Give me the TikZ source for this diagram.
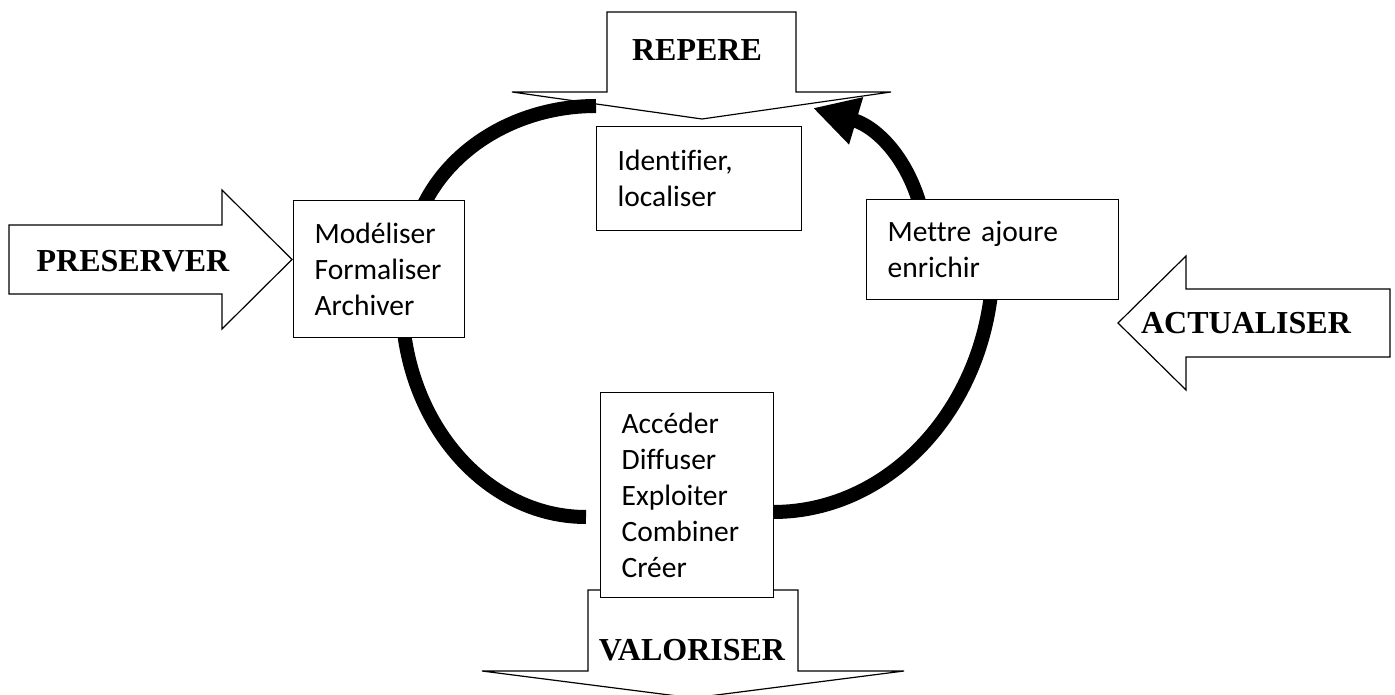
\documentclass[tikz,border=0pt]{standalone}
\usepackage{fontspec}
\setmainfont[Ligatures=NoCommon]{Carlito}
\newfontfamily\headfont{Liberation Serif}
\usetikzlibrary{arrows.meta}
\begin{document}
\begin{tikzpicture}[x=1pt,y=-1pt,
  box/.style={draw, line width=1.2pt, fill=white, anchor=north west, align=left,
    inner xsep=21pt, inner ysep=0pt, font=\fontsize{29.5}{36}\selectfont},
  blockarrow/.style={draw, line width=1.2pt, fill=white, line join=miter},
  head/.style={font=\headfont\bfseries\fontsize{32}{38}\selectfont},
  loopline/.style={line width=14pt, line cap=butt}]
\useasboundingbox (0,0) rectangle (1395,695);
\fill[white] (0,0) rectangle (1395,695);

% block arrows
\draw[blockarrow] (9,225) -- (222,225) -- (222,190) -- (292,259.5) -- (222,329) -- (222,294) -- (9,294) -- cycle;
\node[head] (pres) at (133,261) {PRESERVER};

\draw[blockarrow] (1390,289) -- (1186,289) -- (1186,256) -- (1118,323) -- (1186,390) -- (1186,357) -- (1390,357) -- cycle;
\node[head] (actu) at (1246,323) {ACTUALISER};

\draw[blockarrow] (607,12) -- (796,12) -- (796,92) -- (891,92) -- (702,119) -- (512,92) -- (607,92) -- cycle;
\node[head] (repere) at (697,50) {REPERE};

\draw[blockarrow] (588,590) -- (798,590) -- (798,671) -- (904,671) -- (693,698) -- (482,671) -- (588,671) -- cycle;
\node[head] (valo) at (692,650) {VALORISER};

% cycle arcs
\coordinate (tlA) at (409,268);
\coordinate (tlB) at (596,106);
\coordinate (blA) at (402,300);
\coordinate (blB) at (586,517);
\coordinate (brA) at (993,260);
\coordinate (brB) at (773,512);
\coordinate (trA) at (928,250);
\coordinate (trB) at (813,108);
\draw[loopline] (tlA) .. controls (409,178.5) and (492.7,106) .. (tlB);
\draw[loopline] (blA) .. controls (402,419.9) and (484.4,517) .. (blB);
\draw[loopline] (brA) .. controls (993,399.2) and (894.5,512) .. (brB);
\draw[loopline, -{Triangle[length=45pt,width=46pt]}] (trA) .. controls (922,170) and (880,128) .. (trB);

% boxes
\node[box, text width=129pt, minimum height=137pt] (mod) at (293,200) {Modéliser\\Formaliser\\Archiver};
\node[box, text width=163pt, minimum height=104pt] (ident) at (596,126) {Identifier,\\localiser};
\node[box, text width=210pt, minimum height=100pt] (mett) at (866,199) {Mettre ajoure\\enrichir};
\node[box, text width=131pt, minimum height=205pt] (acc) at (600,392) {Accéder\\Diffuser\\Exploiter\\Combiner\\Créer};
\end{tikzpicture}
\end{document}
